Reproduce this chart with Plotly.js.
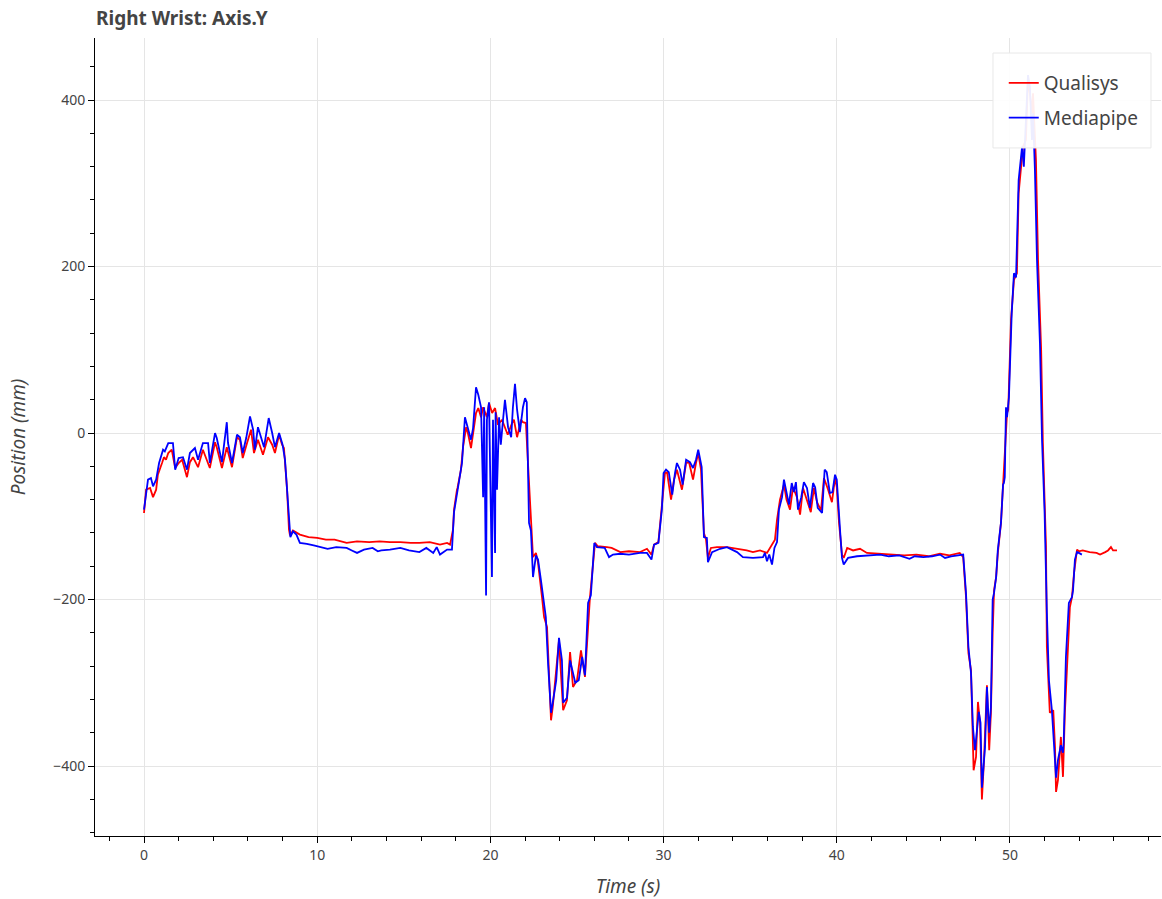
<!DOCTYPE html>
<html>
<head>
<meta charset="utf-8">
<script src="https://cdn.plot.ly/plotly-3.0.1.min.js"></script>
<style>html,body{margin:0;padding:0;background:#fff;}#chart{width:1162px;height:899px;}</style>
</head>
<body>
<div id="chart"></div>
<script>
const chartTitle = "Right Wrist: Axis.Y";
const seriesNames = ["Qualisys", "Mediapipe"];
const xTitle = "Time (s)";
const yTitle = "Position (mm)";

const qualisysTime = [0, 0.12, 0.35, 0.52, 0.7, 0.8, 1.04, 1.15, 1.27, 1.4, 1.6, 1.8, 2.0, 2.2, 2.48, 2.65, 2.83, 3.12, 3.4, 3.52, 3.8, 4.1, 4.2, 4.5, 4.78, 5.08, 5.37, 5.54, 5.7, 5.95, 6.18, 6.35, 6.58, 6.87, 7.16, 7.4, 7.56, 7.8, 7.97, 8.08, 8.26, 8.37, 8.43, 8.6, 9.0, 9.5, 10.0, 10.5, 11.0, 11.7, 12.3, 13.0, 13.6, 14.2, 14.8, 15.4, 15.9, 16.5, 17.09, 17.5, 17.67, 17.84, 17.9, 18.07, 18.1, 18.3, 18.42, 18.6, 18.7, 18.88, 19.0, 19.17, 19.3, 19.46, 19.58, 19.8, 19.92, 20.1, 20.27, 20.44, 20.67, 20.84, 21.0, 21.25, 21.36, 21.54, 21.77, 21.88, 22.05, 22.17, 22.34, 22.46, 22.63, 22.75, 22.98, 23.1, 23.27, 23.5, 23.6, 23.85, 23.96, 24.2, 24.42, 24.6, 24.77, 25.0, 25.23, 25.46, 25.75, 26.04, 26.2, 26.73, 27.0, 27.5, 28.0, 28.64, 29.04, 29.3, 29.45, 29.7, 29.85, 29.97, 30.08, 30.2, 30.43, 30.6, 30.77, 31.06, 31.3, 31.47, 31.7, 31.87, 32.0, 32.16, 32.33, 32.45, 32.56, 32.73, 33.08, 33.66, 34.0, 34.4, 34.8, 35.16, 35.57, 35.97, 36.26, 36.43, 36.55, 36.72, 36.95, 37.1, 37.3, 37.47, 37.7, 37.88, 38.05, 38.28, 38.5, 38.68, 38.86, 39.09, 39.26, 39.5, 39.72, 39.9, 40.0, 40.13, 40.3, 40.4, 40.6, 40.94, 41.34, 41.74, 42.5, 43.2, 43.9, 44.6, 45.3, 45.96, 46.5, 47.1, 47.3, 47.46, 47.6, 47.75, 47.86, 47.9, 48.04, 48.15, 48.27, 48.38, 48.5, 48.67, 48.8, 48.9, 49.0, 49.08, 49.2, 49.3, 49.48, 49.6, 49.7, 49.83, 49.9, 50.06, 50.23, 50.4, 50.5, 50.7, 50.75, 50.92, 51.04, 51.15, 51.27, 51.33, 51.5, 51.62, 51.8, 51.9, 52.08, 52.13, 52.3, 52.5, 52.6, 52.66, 52.77, 52.94, 53.06, 53.17, 53.35, 53.46, 53.58, 53.7, 53.87, 53.98, 54.2, 54.6, 55.0, 55.2, 55.5, 55.66, 55.83, 55.95, 56.18];
const qualisysPos = [-96, -68, -66, -77, -68, -50, -36, -29, -32, -24, -20, -42, -36, -32, -53, -35, -29, -41, -20, -26, -42, -11, -17, -42, -17, -41, -5, -8, -30, -12, 4, -24, -8, -26, -5, -14, -24, -2, -14, -18, -68, -116, -123, -117, -122, -125, -126, -128, -128, -132, -130, -131, -130, -131, -131, -132, -132, -131, -134, -132, -134, -116, -92, -68, -66, -44, -17, 7, 0, -18, 0, 24, 30, 19, 31, 19, 36, 24, 30, 10, 16, 7, -2, 12, 16, -5, 16, 13, 12, -36, -108, -149, -144, -156, -197, -221, -233, -345, -329, -273, -249, -333, -321, -263, -305, -297, -261, -293, -197, -132, -136, -137, -138, -143, -142, -143, -139, -146, -134, -131, -101, -72, -48, -47, -80, -56, -44, -68, -36, -35, -56, -36, -24, -44, -120, -128, -150, -138, -137, -137, -138, -140, -141, -143, -141, -144, -134, -128, -104, -80, -62, -80, -92, -65, -77, -98, -66, -80, -95, -66, -83, -93, -54, -68, -83, -54, -65, -108, -146, -150, -138, -141, -139, -144, -145, -146, -147, -146, -148, -145, -147, -144, -149, -197, -264, -285, -357, -405, -389, -323, -348, -440, -393, -303, -381, -336, -240, -189, -173, -144, -108, -65, -32, 24, 28, 136, 184, 192, 288, 328, 344, 352, 424, 408, 384, 408, 328, 208, 100, -12, -137, -257, -336, -333, -377, -431, -417, -365, -413, -336, -264, -209, -197, -168, -140, -142, -141, -143, -144, -146, -143, -141, -137, -141, -141];

const mediapipeTime = [0, 0.12, 0.23, 0.4, 0.52, 0.7, 0.87, 1.1, 1.2, 1.4, 1.67, 1.8, 2.0, 2.25, 2.48, 2.65, 2.94, 3.12, 3.4, 3.7, 3.8, 4.1, 4.2, 4.5, 4.78, 4.85, 5.08, 5.37, 5.54, 5.7, 5.9, 6.12, 6.3, 6.4, 6.58, 6.93, 7.2, 7.4, 7.56, 7.8, 8.0, 8.14, 8.26, 8.31, 8.45, 8.6, 8.8, 9.0, 9.4, 9.8, 10.2, 10.6, 11.1, 11.7, 12.0, 12.3, 12.7, 13.2, 13.5, 13.7, 14.2, 14.8, 15.3, 15.9, 16.3, 16.7, 16.9, 17.09, 17.5, 17.78, 17.9, 18.07, 18.13, 18.36, 18.53, 18.7, 18.88, 19.0, 19.17, 19.3, 19.46, 19.58, 19.64, 19.75, 19.8, 19.92, 20.09, 20.15, 20.27, 20.3, 20.38, 20.5, 20.6, 20.73, 20.84, 21.02, 21.2, 21.3, 21.42, 21.54, 21.7, 21.88, 22.0, 22.1, 22.23, 22.34, 22.46, 22.63, 22.75, 22.92, 23.04, 23.2, 23.33, 23.5, 23.6, 23.8, 23.96, 24.13, 24.2, 24.42, 24.6, 24.77, 24.9, 25.1, 25.3, 25.46, 25.64, 25.8, 26.0, 26.15, 26.6, 26.85, 27.08, 27.5, 28.0, 28.64, 29.04, 29.3, 29.45, 29.7, 29.9, 30.0, 30.14, 30.3, 30.5, 30.66, 30.77, 30.95, 31.1, 31.3, 31.52, 31.7, 31.87, 32.0, 32.2, 32.33, 32.5, 32.56, 32.8, 33.26, 33.66, 34.24, 34.58, 35.16, 35.74, 35.85, 35.97, 36.1, 36.26, 36.4, 36.55, 36.66, 36.84, 36.95, 37.1, 37.24, 37.4, 37.52, 37.64, 37.76, 37.95, 38.1, 38.28, 38.45, 38.63, 38.75, 38.9, 39.15, 39.3, 39.42, 39.6, 39.75, 39.9, 40.0, 40.2, 40.3, 40.4, 40.65, 41.17, 42.1, 42.5, 43.0, 43.6, 44.2, 44.5, 45.0, 45.5, 45.96, 46.25, 46.6, 47.1, 47.3, 47.46, 47.6, 47.75, 47.86, 47.98, 48.1, 48.2, 48.3, 48.38, 48.56, 48.67, 48.8, 48.9, 49.0, 49.08, 49.2, 49.3, 49.48, 49.6, 49.65, 49.7, 49.77, 49.83, 49.94, 50.1, 50.23, 50.35, 50.5, 50.7, 50.8, 50.98, 51.04, 51.15, 51.27, 51.33, 51.44, 51.56, 51.73, 51.85, 52.0, 52.13, 52.25, 52.42, 52.54, 52.66, 52.77, 52.94, 53.06, 53.1, 53.23, 53.4, 53.58, 53.64, 53.75, 53.87, 53.98, 54.15];
const mediapipePos = [-92, -71, -56, -54, -64, -56, -36, -20, -22, -12, -12, -44, -30, -29, -44, -24, -18, -32, -12, -12, -36, 0, -6, -35, 13, -12, -36, -2, -5, -24, -6, 20, 4, -20, 7, -17, 18, 0, -17, 0, -14, -32, -66, -89, -125, -118, -122, -132, -133, -135, -137, -139, -137, -138, -141, -144, -140, -138, -142, -141, -140, -138, -141, -143, -138, -144, -137, -146, -140, -140, -95, -71, -65, -36, 19, 7, -8, 6, 55, 46, 31, -77, 31, -195, 16, 37, -173, 16, -144, 25, -68, 19, -14, 16, 40, 7, -5, 31, 59, 28, 1, 31, 42, 37, -108, -117, -173, -147, -152, -177, -197, -221, -277, -336, -324, -297, -246, -273, -324, -318, -273, -288, -300, -297, -269, -291, -204, -195, -132, -137, -138, -149, -146, -145, -146, -144, -144, -152, -134, -132, -92, -48, -44, -47, -74, -48, -36, -44, -62, -32, -35, -42, -32, -20, -41, -125, -126, -155, -143, -139, -137, -143, -149, -150, -149, -144, -154, -146, -158, -138, -131, -92, -77, -56, -71, -86, -60, -71, -59, -92, -77, -59, -66, -90, -60, -65, -90, -96, -44, -47, -72, -71, -50, -56, -120, -150, -158, -150, -148, -146, -146, -148, -147, -151, -148, -149, -148, -146, -150, -148, -147, -146, -192, -257, -288, -353, -381, -360, -335, -348, -426, -377, -305, -360, -329, -200, -192, -173, -140, -108, -62, -60, -53, 31, 19, 43, 144, 192, 187, 304, 344, 320, 400, 430, 416, 352, 384, 316, 208, 108, -8, -96, -216, -297, -333, -372, -414, -393, -375, -384, -372, -269, -204, -197, -189, -152, -143, -144, -146];

const traces = [
  {x: qualisysTime, y: qualisysPos, name: seriesNames[0], legendgroup: 'q', type: 'scatter', mode: 'lines',
   line: {color: '#ff0000', width: 1.8}},
  {x: mediapipeTime, y: mediapipePos, name: seriesNames[1], legendgroup: 'm', type: 'scatter', mode: 'lines',
   line: {color: '#0000ff', width: 1.8}}
];

const fontFam = '"Noto Sans", "Open Sans", sans-serif';
const layout = {
  width: 1162, height: 899,
  paper_bgcolor: '#ffffff', plot_bgcolor: '#ffffff',
  margin: {l: 95, r: 1, t: 38, b: 63},
  font: {family: fontFam, color: '#444444', size: 14},
  title: {text: '<b>' + chartTitle + '</b>', x: 96/1162, xanchor: 'left', xref: 'container',
          y: 1 - 18/899, yref: 'container', yanchor: 'middle',
          font: {family: fontFam, size: 19, color: '#444444'}},
  showlegend: true,
  legend: {x: 0.8525, xanchor: 'left', y: 0.9674, yanchor: 'top',
           bgcolor: 'rgba(0,0,0,0)', borderwidth: 0,
           font: {family: fontFam, size: 19, color: '#444444'}, itemwidth: 30,
           tracegroupgap: 7},
  shapes: [
    {type: 'rect', xref: 'paper', yref: 'paper', x0: 0.8424, x1: 0.9906, y0: 0.8622, y1: 0.9812,
     fillcolor: 'rgba(255,255,255,0.93)', line: {color: '#e8e8e8', width: 1}, layer: 'above'}
  ],
  xaxis: {
    range: [-2.83, 58.72], dtick: 10, tick0: 0,
    showgrid: true, gridcolor: '#e5e5e5', gridwidth: 1, zeroline: false,
    showline: true, linecolor: '#000000', linewidth: 1,
    ticks: 'outside', ticklen: 6, tickcolor: '#000000', tickwidth: 1,
    minor: {dtick: 2, tick0: 0, ticks: 'outside', ticklen: 4, tickcolor: '#000000', tickwidth: 1, showgrid: false},
    tickfont: {family: fontFam, size: 14, color: '#444444'},
    title: {text: '<i>' + xTitle + '</i>', font: {family: fontFam, size: 19, color: '#444444'}, standoff: 17}
  },
  yaxis: {
    range: [-484, 474.5], dtick: 200, tick0: 0,
    showgrid: true, gridcolor: '#e5e5e5', gridwidth: 1, zeroline: false,
    showline: true, linecolor: '#000000', linewidth: 1,
    ticks: 'outside', ticklen: 6, tickcolor: '#000000', tickwidth: 1,
    minor: {dtick: 40, tick0: 0, ticks: 'outside', ticklen: 4, tickcolor: '#000000', tickwidth: 1, showgrid: false},
    tickfont: {family: fontFam, size: 14, color: '#444444'},
    title: {text: '<i>' + yTitle + '</i>', font: {family: fontFam, size: 19, color: '#444444'}, standoff: 22}
  }
};

Plotly.newPlot('chart', traces, layout, {displayModeBar: false, staticPlot: true});
</script>
</body>
</html>
